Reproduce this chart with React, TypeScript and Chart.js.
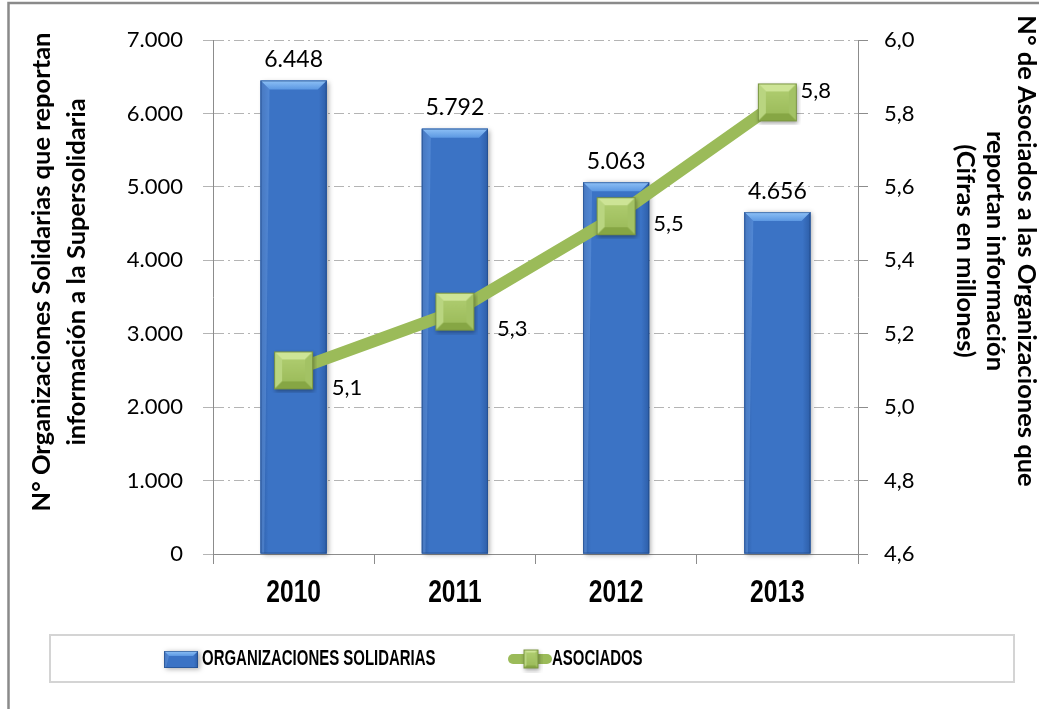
import React, { useEffect, useRef } from 'react';
import { Chart, registerables } from 'chart.js';

Chart.register(...registerables);

const years = ['2010', '2011', '2012', '2013'];
const organizaciones = [6448, 5792, 5063, 4656];
const asociados = [5.1, 5.26, 5.52, 5.83];
const leftTicksMin = 0;
const leftTicksMax = 7000;
const leftTicksStep = 1000;
const rightTicksMin = 4.6;
const rightTicksMax = 6.0;
const rightTicksStep = 0.2;
const leftTitle = ['N° Organizaciones Solidarias que reportan', 'información a la Supersolidaria'];
const rightTitle = ['N° de Asociados a las Organizaciones que', 'reportan información', '(Cifras en millones)'];
const legendLabels = ['ORGANIZACIONES SOLIDARIAS', 'ASOCIADOS'];

const W = 1039;
const H = 709;
const LINE_LABEL_SHIFT = [
  [38, 17],
  [42, 17],
  [37, 8],
  [23, -12],
];

const fmtThousands = (v: number) =>
  Math.round(v).toString().replace(/\B(?=(\d{3})+(?!\d))/g, '.');
const fmtDec = (v: number) => v.toFixed(1).replace('.', ',');

function makeMarker(w: number, h: number): HTMLCanvasElement {
  const pad = 4;
  const c = document.createElement('canvas');
  c.width = w + pad * 2;
  c.height = h + pad * 2;
  const g = c.getContext('2d')!;
  g.save();
  g.shadowColor = 'rgba(0,0,0,0.35)';
  g.shadowBlur = 4;
  g.shadowOffsetX = 1;
  g.shadowOffsetY = 2;
  g.fillStyle = '#9bbb59';
  g.fillRect(pad, pad, w, h);
  g.restore();
  const x0 = pad, y0 = pad, x1 = pad + w, y1 = pad + h;
  const b = Math.round(Math.min(w, h) * 0.22);
  const face = g.createLinearGradient(0, y0, 0, y1);
  face.addColorStop(0, '#b3d074');
  face.addColorStop(1, '#98b856');
  g.fillStyle = face;
  g.fillRect(x0, y0, w, h);
  const poly = (pts: number[][], color: string) => {
    g.fillStyle = color;
    g.beginPath();
    g.moveTo(pts[0][0], pts[0][1]);
    for (let i = 1; i < pts.length; i++) g.lineTo(pts[i][0], pts[i][1]);
    g.closePath();
    g.fill();
  };
  poly([[x0, y0], [x1, y0], [x1 - b, y0 + b], [x0 + b, y0 + b]], '#cde496');
  poly([[x0, y0], [x0 + b, y0 + b], [x0 + b, y1 - b], [x0, y1]], '#b9d580');
  poly([[x1, y0], [x1, y1], [x1 - b, y1 - b], [x1 - b, y0 + b]], '#a3c264');
  poly([[x0, y1], [x0 + b, y1 - b], [x1 - b, y1 - b], [x1, y1]], '#86a644');
  g.strokeStyle = '#7a9540';
  g.lineWidth = 1;
  g.strokeRect(x0 + 0.5, y0 + 0.5, w - 1, h - 1);
  return c;
}

function drawBevelBar(ctx: CanvasRenderingContext2D, l: number, t: number, w: number, h: number, b: number) {
  const r = l + w;
  const btm = t + h;
  ctx.save();
  ctx.shadowColor = 'rgba(0,0,0,0.35)';
  ctx.shadowBlur = 5;
  ctx.shadowOffsetX = 2;
  ctx.shadowOffsetY = 1;
  ctx.fillStyle = '#3a70c1';
  ctx.fillRect(l, t, w, h);
  ctx.restore();
  ctx.save();
  const body = ctx.createLinearGradient(l, 0, r, 0);
  body.addColorStop(0, '#2d5ea8');
  body.addColorStop(0.12, '#3b73c5');
  body.addColorStop(0.88, '#3b73c5');
  body.addColorStop(1, '#2d5ea8');
  ctx.fillStyle = body;
  ctx.fillRect(l, t, w, h);
  const tg = ctx.createLinearGradient(0, t, 0, t + b);
  tg.addColorStop(0, '#8ec1f6');
  tg.addColorStop(1, '#5c98e2');
  ctx.fillStyle = tg;
  ctx.beginPath();
  ctx.moveTo(l, t);
  ctx.lineTo(r, t);
  ctx.lineTo(r - b, t + b);
  ctx.lineTo(l + b, t + b);
  ctx.closePath();
  ctx.fill();
  ctx.fillStyle = 'rgba(120,170,235,0.35)';
  ctx.beginPath();
  ctx.moveTo(l, t);
  ctx.lineTo(l + b, t + b);
  ctx.lineTo(l + b * 0.4, btm);
  ctx.lineTo(l, btm);
  ctx.closePath();
  ctx.fill();
  ctx.strokeStyle = 'rgba(30,70,130,0.6)';
  ctx.lineWidth = 1;
  ctx.strokeRect(l + 0.5, t + 0.5, w - 1, h - 1);
  ctx.restore();
}

const customPlugin = {
  id: 'customDraw',
  beforeDraw(chart: any) {
    const ctx = chart.ctx as CanvasRenderingContext2D;
    ctx.save();
    ctx.fillStyle = '#ffffff';
    ctx.fillRect(0, 0, W, H);
    ctx.strokeStyle = '#8a8a8a';
    ctx.lineWidth = 2.5;
    ctx.beginPath();
    ctx.moveTo(W, 3);
    ctx.lineTo(8.5, 3);
    ctx.lineTo(8.5, H);
    ctx.stroke();
    ctx.restore();
  },
  afterDatasetDraw(chart: any, args: any) {
    if (args.index !== 1) return;
    const ctx = chart.ctx as CanvasRenderingContext2D;
    const meta = chart.getDatasetMeta(1);
    meta.data.forEach((el: any) => {
      const p = el.getProps(['x', 'y', 'base', 'width'], true);
      drawBevelBar(ctx, p.x - p.width / 2, p.y, p.width, p.base - p.y, 9);
    });
  },
  afterDatasetsDraw(chart: any) {
    const ctx = chart.ctx as CanvasRenderingContext2D;
    ctx.save();
    ctx.fillStyle = '#000';
    ctx.font = '23px Lato';
    ctx.textAlign = 'center';
    ctx.textBaseline = 'middle';
    const barMeta = chart.getDatasetMeta(1);
    barMeta.data.forEach((el: any, i: number) => {
      ctx.fillText(fmtThousands(organizaciones[i]), el.x, el.y - 21);
    });
    ctx.font = '22px Lato';
    ctx.textAlign = 'left';
    const lineMeta = chart.getDatasetMeta(0);
    lineMeta.data.forEach((el: any, i: number) => {
      const s = LINE_LABEL_SHIFT[i];
      ctx.fillText(fmtDec(asociados[i]), el.x + s[0], el.y + s[1]);
    });
    ctx.restore();
  },
  afterDraw(chart: any) {
    const ctx = chart.ctx as CanvasRenderingContext2D;
    ctx.save();
    ctx.fillStyle = '#000';
    // x-axis category labels (condensed bold)
    const xs = chart.scales.x;
    ctx.font = 'bold 32px "Liberation Sans"';
    ctx.textAlign = 'center';
    ctx.textBaseline = 'middle';
    years.forEach((yr, i) => {
      ctx.save();
      ctx.translate(xs.getPixelForValue(i), 593);
      ctx.scale(0.77, 1);
      ctx.fillText(yr, 0, 0);
      ctx.restore();
    });
    ctx.font = 'bold 25.5px Lato';
    ctx.textAlign = 'center';
    ctx.textBaseline = 'alphabetic';
    const lx = [50, 85];
    leftTitle.forEach((t, i) => {
      ctx.save();
      ctx.translate(lx[i], 272);
      ctx.rotate(-Math.PI / 2);
      ctx.fillText(t, 0, 0);
      ctx.restore();
    });
    const rx = [1018, 987, 957];
    rightTitle.forEach((t, i) => {
      ctx.save();
      ctx.translate(rx[i], 251);
      ctx.rotate(Math.PI / 2);
      ctx.fillText(t, 0, 0);
      ctx.restore();
    });
    // legend
    ctx.strokeStyle = '#d4d4d4';
    ctx.lineWidth = 2;
    ctx.strokeRect(50, 635, 964, 47);
    drawBevelBar(ctx, 164, 651, 34, 17, 5);
    ctx.strokeStyle = '#9bbb59';
    ctx.lineWidth = 10;
    ctx.lineCap = 'round';
    ctx.beginPath();
    ctx.moveTo(513, 659);
    ctx.lineTo(547, 659);
    ctx.stroke();
    const m = makeMarker(15, 19);
    ctx.drawImage(m, 531 - m.width / 2, 659 - m.height / 2);
    ctx.font = 'bold 22px "Liberation Sans"';
    ctx.textAlign = 'left';
    ctx.textBaseline = 'middle';
    const sx = 0.68;
    const lxs = [202, 552];
    legendLabels.forEach((t, i) => {
      ctx.save();
      ctx.translate(lxs[i], 659);
      ctx.scale(sx, 1);
      ctx.fillText(t, 0, 0);
      ctx.restore();
    });
    ctx.restore();
  },
};

export default function App() {
  const ref = useRef<HTMLCanvasElement | null>(null);
  useEffect(() => {
    if (!ref.current) return;
    const marker = makeMarker(39, 38);
    const chart = new Chart(ref.current, {
      type: 'bar',
      data: {
        labels: years,
        datasets: [
          {
            type: 'line',
            label: legendLabels[1],
            data: asociados,
            yAxisID: 'y1',
            borderColor: '#9bbb59',
            backgroundColor: '#9bbb59',
            borderWidth: 12,
            pointStyle: marker as any,
            pointRadius: 20,
            tension: 0,
            order: 0,
          } as any,
          {
            type: 'bar',
            label: legendLabels[0],
            data: organizaciones,
            yAxisID: 'y',
            backgroundColor: '#3a70c1',
            borderWidth: 0,
            categoryPercentage: 1,
            barPercentage: 0.41,
            order: 1,
          },
        ],
      },
      options: {
        responsive: false,
        animation: false,
        layout: { padding: { top: 40, left: 0, right: 0, bottom: 0 } },
        plugins: { legend: { display: false }, tooltip: { enabled: false }, title: { display: false } },
        scales: {
          x: {
            offset: true,
            grid: { display: true, drawOnChartArea: false, drawTicks: true, tickLength: 10, color: '#8c8c8c', offset: true },
            border: { display: true, color: '#8c8c8c', width: 1 },
            ticks: { display: false },
            afterFit: (s: any) => { s.height = 155; },
          },
          y: {
            position: 'left',
            min: leftTicksMin,
            max: leftTicksMax,
            ticks: {
              stepSize: leftTicksStep,
              color: '#000',
              font: { family: 'Lato', size: 22 },
              padding: 20,
              callback: (v: any) => fmtThousands(Number(v)),
            },
            grid: { color: '#b4b4b4', tickLength: 10, lineWidth: 1 },
            border: { display: true, color: '#8c8c8c', dash: [10, 4, 2, 4] },
            afterFit: (s: any) => { s.width = 213; },
          },
          y1: {
            position: 'right',
            min: rightTicksMin,
            max: rightTicksMax,
            ticks: {
              stepSize: rightTicksStep,
              color: '#000',
              font: { family: 'Lato', size: 22 },
              padding: 16,
              callback: (v: any) => fmtDec(Number(v)),
            },
            grid: { drawOnChartArea: false, color: '#8c8c8c', tickLength: 10 },
            border: { display: true, color: '#8c8c8c' },
            afterFit: (s: any) => { s.width = 181; },
          },
        },
      } as any,
      plugins: [customPlugin],
    });
    return () => chart.destroy();
  }, []);
  return (
    <div style={{ position: 'fixed', left: 0, top: 0, width: W, height: H, background: '#fff' }}>
      <canvas ref={ref} width={W} height={H} style={{ display: 'block', width: W, height: H }} />
    </div>
  );
}
